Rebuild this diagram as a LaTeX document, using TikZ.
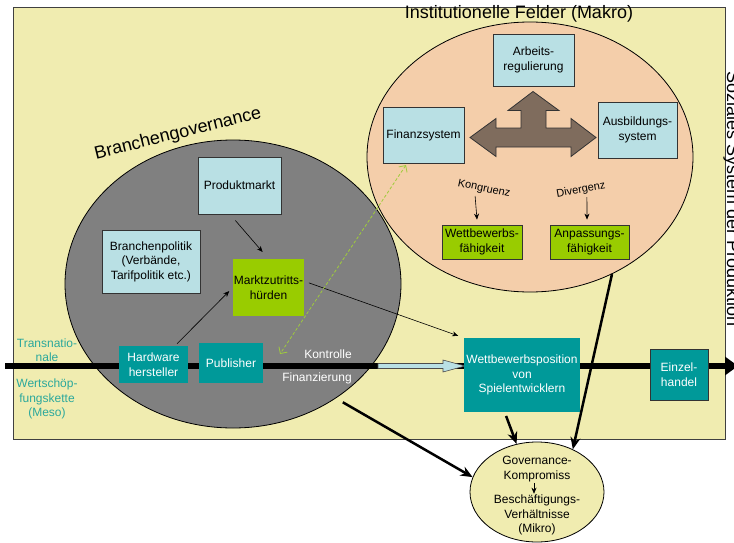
\documentclass[tikz,border=0pt]{standalone}
\usepackage{fontspec}
\setmainfont{Liberation Sans}
\usepackage{tikz}
\usetikzlibrary{arrows.meta,shapes.geometric,calc}

\definecolor{feldgelb}{RGB}{240,236,176}
\definecolor{pfirsich}{RGB}{244,206,170}
\definecolor{hellblau}{RGB}{185,224,228}
\definecolor{petrol}{RGB}{0,153,153}
\definecolor{gruen}{RGB}{153,204,0}
\definecolor{braun}{RGB}{127,108,93}
\definecolor{schrift}{RGB}{43,168,156}
\definecolor{strich}{RGB}{160,204,60}

\begin{document}
\begin{tikzpicture}[x=1pt,y=-1pt]
\tikzset{
	every node/.style = {font=\fontsize{12}{14.5}\selectfont, align=center, inner sep=0},
	titel/.style = {font=\fontsize{18}{21}\selectfont},
	klein/.style = {font=\fontsize{11}{13}\selectfont},
	blau box/.style = {draw=black!80, fill=hellblau, line width=0.8pt},
	gruen box/.style = {fill=gruen},
	gruen rand box/.style = {draw=black!80, fill=gruen, line width=0.8pt},
	petrol box/.style = {fill=petrol, text=white},
	weiss/.style = {text=white},
	duenn pfeil/.style = {line width=0.6pt, -{Stealth[length=6pt,width=5pt]}},
	dick pfeil/.style = {line width=2.5pt, -{Stealth[length=12pt,width=10pt]}},
}
\useasboundingbox (0,0) rectangle (734,543);

\draw[draw=black!75, fill=feldgelb, line width=0.8pt] (13,7) rectangle (725,439);
\node[titel] (makro titel) at (519,14) {Institutionelle Felder (Makro)};
\node[titel, rotate=14] (meso titel) at (178,134) {Branchengovernance};
\node[titel, rotate=-90, anchor=base] (soziales) at (727,199) {Soziales System der Produktion};

\node[ellipse, draw, line width=0.8pt, fill=pfirsich, minimum width=326pt, minimum height=270pt] (makro feld) at (530,157) {};
\node[ellipse, draw, line width=0.8pt, fill=black!50, minimum width=336pt, minimum height=288pt] (meso feld) at (233,284) {};

\coordinate (kette start) at (5,366);
\coordinate (kette ende) at (738,366);
\draw[line width=6pt, -{Triangle[length=13pt,width=18pt]}] (kette start) -- (kette ende);
\draw[draw=black!70, fill=hellblau, line width=0.6pt] (378,363.5) -- (443,363.5) -- (443,360) -- (465,366) -- (443,372) -- (443,368.5) -- (378,368.5) -- cycle;

\node[blau box, minimum width=83pt, minimum height=57pt] (produkt) at (239.5,185.5) {Produktmarkt};
\node[blau box, minimum width=98pt, minimum height=63pt] (politik) at (151,261.5) {Branchenpolitik\\(Verbände,\\Tarifpolitik etc.)};
\node[gruen box, minimum width=71pt, minimum height=57pt] (markt) at (268.5,287.5) {Marktzutritts-\\hürden};
\node[petrol box, minimum width=69pt, minimum height=37pt] (hardware) at (153.5,364.5) {Hardware\\hersteller};
\node[petrol box, minimum width=64pt, minimum height=40pt] (publisher) at (231,363) {Publisher};
\node[petrol box, minimum width=116pt, minimum height=74pt] (wett) at (522,375) {Wettbewerbsposition\\von\\Spielentwicklern};
\node[petrol box, draw=black!80, line width=0.8pt, minimum width=58pt, minimum height=51pt] (einzel) at (679,374.5) {Einzel-\\handel};

\node[blau box, minimum width=81pt, minimum height=52pt] (arbeit) at (533.5,60) {Arbeits-\\regulierung};
\node[blau box, minimum width=81pt, minimum height=56pt] (finanz) at (423.5,135) {Finanzsystem};
\node[blau box, minimum width=79pt, minimum height=56pt] (ausbildung) at (637.5,130) {Ausbildungs-\\system};
\node[gruen rand box, minimum width=80pt, minimum height=34pt] (wbf) at (482,242) {Wettbewerbs-\\fähigkeit};
\node[gruen rand box, minimum width=79pt, minimum height=34pt] (anp) at (589.5,242) {Anpassungs-\\fähigkeit};
\node[klein, rotate=-12] (kongruenz) at (484,189) {Kongruenz};
\node[klein, rotate=10] (divergenz) at (581,190) {Divergenz};

\draw[draw=black!80, fill=braun, line width=0.8pt, shift={(533,137.5)}] (-63,0) -- (-37,-19) -- (-37,-9.5) -- (-12,-9.5) -- (-12,-27) -- (-25,-27) -- (0,-46) -- (26,-27) -- (13,-27) -- (13,-9.5) -- (38,-9.5) -- (38,-19) -- (63,0) -- (38,19) -- (38,9.5) -- (-37,9.5) -- (-37,19) -- cycle;

\node[weiss] (kontrolle) at (328,354) {Kontrolle};
\node[weiss] (finanzierung) at (317,378) {Finanzierung};
\node[text=schrift] (transnational) at (47,350) {Transnatio-\\nale};
\node[text=schrift] (meso) at (47,399) {Wertschöp-\\fungskette\\(Meso)};

\node[ellipse, draw, line width=0.8pt, fill=feldgelb, minimum width=134pt, minimum height=100pt] (mikro) at (537,492) {};
\node (gov1) at (537,469) {Governance-\\Kompromiss};
\node (gov2) at (537,515) {Beschäftigungs-\\Verhältnisse\\(Mikro)};

\draw[duenn pfeil, shorten <=8pt, shorten >=9pt] (produkt.252) -- (markt.north);
\draw[duenn pfeil, shorten <=3pt, shorten >=5pt] (hardware.41) -- (markt.west);
\draw[duenn pfeil, shorten <=5pt, shorten >=6pt] (markt.10) -- (wett.north west);
\foreach \wort/\kasten/\dx/\dy in {kongruenz/wbf/-8pt/-5pt, divergenz/anp/5pt/-2.5pt}
	\draw[duenn pfeil, shorten <=2pt] ([xshift=\dx]\wort.south) -- ([xshift=\dy, yshift=5pt]\kasten.north);
\draw[duenn pfeil, line width=0.5pt, shorten <=1pt, shorten >=1pt] ([xshift=-3pt]gov1.south) -- ([xshift=-3pt]gov2.north);

\coordinate (kontroll ziel) at (280,354);
\draw[strich, line width=0.8pt, dash pattern=on 3pt off 2pt, {Straight Barb[length=5pt]}-{Straight Barb[length=5pt]}, shorten <=2pt] (finanz.240) -- (kontroll ziel);

\draw[dick pfeil, shorten <=8pt] (meso feld.-48) -- (mikro.167);
\draw[dick pfeil, shorten <=4pt] (wett.245) -- (mikro.113);
\draw[dick pfeil] (makro feld.-55) -- (mikro.50);

\end{tikzpicture}
\end{document}
